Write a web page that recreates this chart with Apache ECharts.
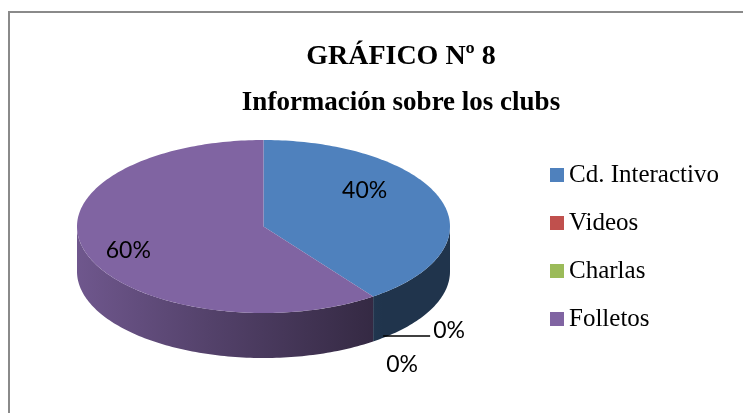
<!DOCTYPE html>
<html>
<head>
<meta charset="utf-8">
<script src="https://cdn.jsdelivr.net/npm/echarts@6/dist/echarts.min.js"></script>
<style>
html,body{margin:0;padding:0;background:#ffffff;}
#chart{width:743px;height:413px;}
</style>
</head>
<body>
<div id="chart"></div>
<script>
// ---- data ----
const categories = ['Cd. Interactivo', 'Videos', 'Charlas', 'Folletos'];
const values = [40, 0, 0, 60];
const titleText = 'GRÁFICO Nº 8';
const subtitleText = 'Información sobre los clubs';

// ---- style / layout ----
const colors = ['#4F81BD', '#C0504D', '#9BBB59', '#8064A2'];
const G = { cx: 263.5, cy: 226.5, rx: 186.5, ry: 86.5, depth: 45 };
// label placement nudges (inside labels: from 0.7 radius; zero labels: from bottom rim)
const labelNudges = [[-23, -17], [76, -11], [29, 23], [-11, 5]];
const leaderLines = [null, [[10, -5.5], [57, -5.5]], null, null];

const total = values.reduce((a, b) => a + b, 0);
function angles(i) {
  let s = 0;
  for (let k = 0; k < i; k++) s += values[k];
  return [s / total * 2 * Math.PI, (s + values[i]) / total * 2 * Math.PI];
}
function pt(a, dy) {
  return [G.cx + G.rx * Math.sin(a), G.cy - G.ry * Math.cos(a) + (dy || 0)];
}
function hexToRgb(h) {
  return [parseInt(h.slice(1, 3), 16), parseInt(h.slice(3, 5), 16), parseInt(h.slice(5, 7), 16)];
}
function shade(h, f) {
  const c = hexToRgb(h).map(v => Math.round(v * f));
  return 'rgb(' + c.join(',') + ')';
}

function sliceRenderer(i) {
  return function (params, api) {
    const v = api.value(0);
    const children = [];
    if (v > 0) {
      const [a0, a1] = angles(i);
      const steps = Math.max(4, Math.ceil((a1 - a0) / 0.02));
      // side wall (front half only)
      const s = Math.max(a0, Math.PI / 2), e = Math.min(a1, 3 * Math.PI / 2);
      if (e > s) {
        const n = Math.max(4, Math.ceil((e - s) / 0.02));
        const pts = [];
        for (let k = 0; k <= n; k++) pts.push(pt(s + (e - s) * k / n));
        for (let k = n; k >= 0; k--) pts.push(pt(s + (e - s) * k / n, G.depth));
        children.push({
          type: 'polygon',
          shape: { points: pts },
          style: {
            fill: {
              type: 'linear', global: true,
              x: G.cx - G.rx, y: 0, x2: G.cx + G.rx, y2: 0,
              colorStops: [
                { offset: 0, color: shade(colors[i], 0.87) },
                { offset: 0.35, color: shade(colors[i], 0.66) },
                { offset: 0.82, color: shade(colors[i], 0.40) },
                { offset: 1, color: shade(colors[i], 0.40) }
              ]
            }
          }
        });
      }
      // top face
      const top = [[G.cx, G.cy]];
      for (let k = 0; k <= steps; k++) top.push(pt(a0 + (a1 - a0) * k / steps));
      children.push({ type: 'polygon', shape: { points: top }, style: { fill: colors[i] } });
    }
    return { type: 'group', children: children };
  };
}

function labelRenderer(params, api) {
  const i = params.dataIndex;
  const v = api.value(0);
  const [a0, a1] = angles(i);
  const txt = Math.round(v / total * 100) + '%';
  let base;
  if (v > 0) {
    const mid = (a0 + a1) / 2;
    base = [G.cx + G.rx * 0.7 * Math.sin(mid), G.cy - G.ry * 0.7 * Math.cos(mid)];
  } else {
    base = pt(a0, G.depth);
  }
  const children = [];
  const ll = leaderLines[i];
  if (ll) {
    children.push({
      type: 'line',
      shape: { x1: base[0] + ll[0][0], y1: base[1] + ll[0][1], x2: base[0] + ll[1][0], y2: base[1] + ll[1][1] },
      style: { stroke: '#000', lineWidth: 1.5 }
    });
  }
  children.push({
    type: 'text',
    x: base[0] + labelNudges[i][0],
    y: base[1] + labelNudges[i][1],
    style: {
      text: txt, fill: '#000', fontSize: 23, fontFamily: 'Lato',
      align: 'center', verticalAlign: 'middle'
    }
  });
  return { type: 'group', children: children };
}

const series = categories.map((name, i) => ({
  type: 'custom',
  name: name,
  coordinateSystem: 'none',
  silent: true,
  z: 2,
  itemStyle: { color: colors[i] },
  data: [[values[i]]],
  renderItem: sliceRenderer(i)
}));
series.push({
  type: 'custom',
  name: '__labels',
  coordinateSystem: 'none',
  silent: true,
  z: 5,
  data: values.map(v => [v]),
  renderItem: labelRenderer
});

const chart = echarts.init(document.getElementById('chart'), null, { renderer: 'canvas' });
chart.setOption({
  animation: false,
  backgroundColor: '#ffffff',
  color: colors,
  title: [
    {
      text: titleText, left: 401, top: 43, textAlign: 'center', padding: 0,
      textStyle: { fontFamily: 'Liberation Serif', fontWeight: 'bold', fontSize: 28, color: '#000' }
    },
    {
      text: subtitleText, left: 401, top: 90, textAlign: 'center', padding: 0,
      textStyle: { fontFamily: 'Liberation Serif', fontWeight: 'bold', fontSize: 27, color: '#000' }
    }
  ],
  legend: {
    data: categories,
    orient: 'vertical',
    left: 550,
    top: 160,
    padding: 0,
    itemWidth: 14,
    itemHeight: 14,
    itemGap: 18,
    icon: 'rect',
    selectedMode: false,
    textStyle: { fontFamily: 'Liberation Serif', fontSize: 25, color: '#000', lineHeight: 30, padding: [0, 0, 0, 0] }
  },
  graphic: [
    {
      type: 'rect', silent: true, z: -1,
      shape: { x: 9, y: 12, width: 760, height: 420 },
      style: { fill: 'none', stroke: '#8a8a8a', lineWidth: 2 }
    }
  ],
  series: series
});
</script>
</body>
</html>
